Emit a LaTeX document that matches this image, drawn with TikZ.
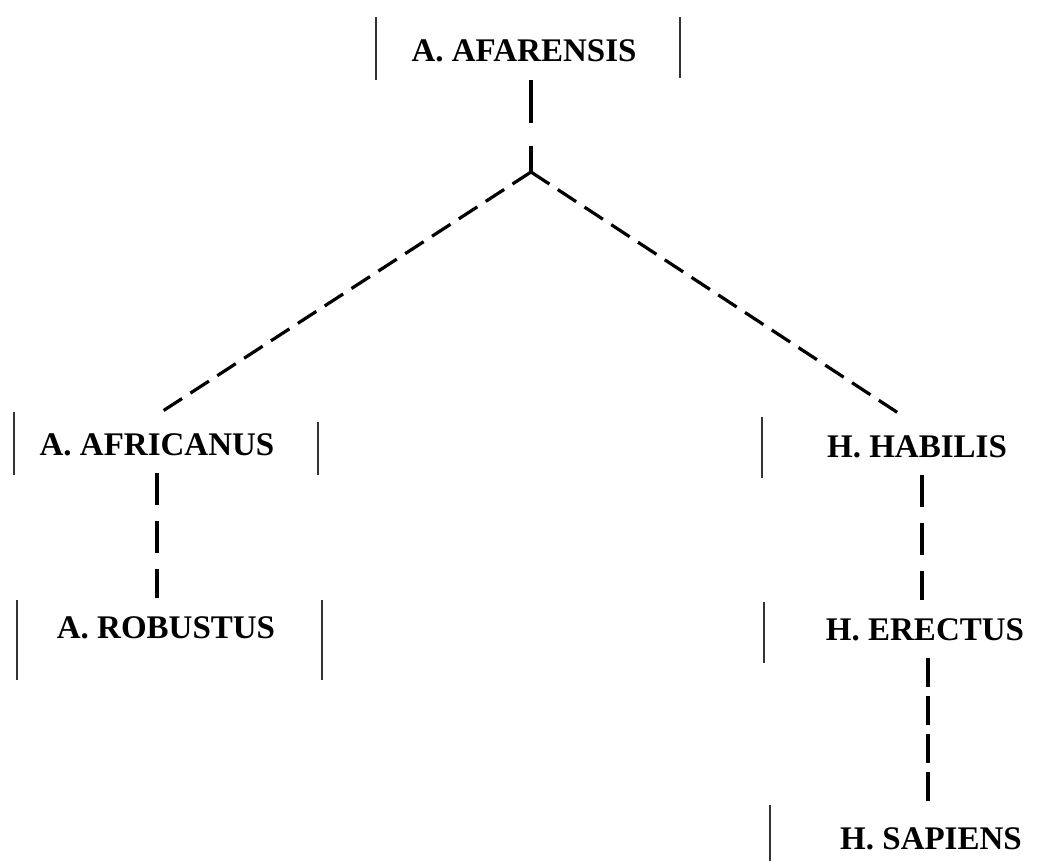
\documentclass[tikz,border=0pt]{standalone}
\usepackage{fontspec}
\setmainfont{Liberation Serif}
\begin{document}
\begin{tikzpicture}[x=1pt,y=-1pt,
  taxon/.style={font=\fontsize{33}{36}\selectfont\bfseries, text height=22pt, text depth=0pt, inner xsep=0pt, inner ysep=18pt},
  link/.style={line width=3.2pt},
  vlink/.style={link, dash pattern=on 32pt off 16pt},
  slink/.style={link, dash pattern=on 29pt off 9pt},
  dlink/.style={link, dash pattern=on 22pt off 10pt},
  bar/.style={line width=1.2pt, black!80}]
\path[use as bounding box] (0,0) rectangle (1063,861);
% taxa
\node[taxon] (afa) at (524,51) {A. AFARENSIS};
\node[taxon] (afr) at (157,444) {A. AFRICANUS};
\node[taxon] (rob) at (166,627) {A. ROBUSTUS};
\node[taxon] (hab) at (917,446) {H. HABILIS};
\node[taxon] (ere) at (925,629) {H. ERECTUS};
\node[taxon] (sap) at (931,838) {H. SAPIENS};
\coordinate (j) at (531,172);
% side bars
\draw[bar] (376,17) -- (376,80);
\draw[bar] (680,17) -- (680,78);
\draw[bar] (14,412) -- (14,475);
\draw[bar] (318,422) -- (318,475);
\draw[bar] (17,600) -- (17,680);
\draw[bar] (322,600) -- (322,680);
\draw[bar] (762,417) -- (762,478);
\draw[bar] (764,602) -- (764,663);
\draw[bar] (770,805) -- (770,861);
% connectors
\draw[link, dash pattern=on 43pt off 23pt] (afa.south -| j) -- (j);
\draw[dlink] (j) -- (afr.north);
\draw[dlink] (j) -- ([xshift=-13pt]hab.north);
\draw[vlink] (afr.south) -- (afr.south |- rob.north);
\draw[vlink] ([xshift=5pt]hab.south) -- ([xshift=5pt]hab.south |- ere.north);
\draw[slink] ([xshift=3pt]ere.south) -- ([xshift=3pt]ere.south |- sap.north);
\end{tikzpicture}
\end{document}
